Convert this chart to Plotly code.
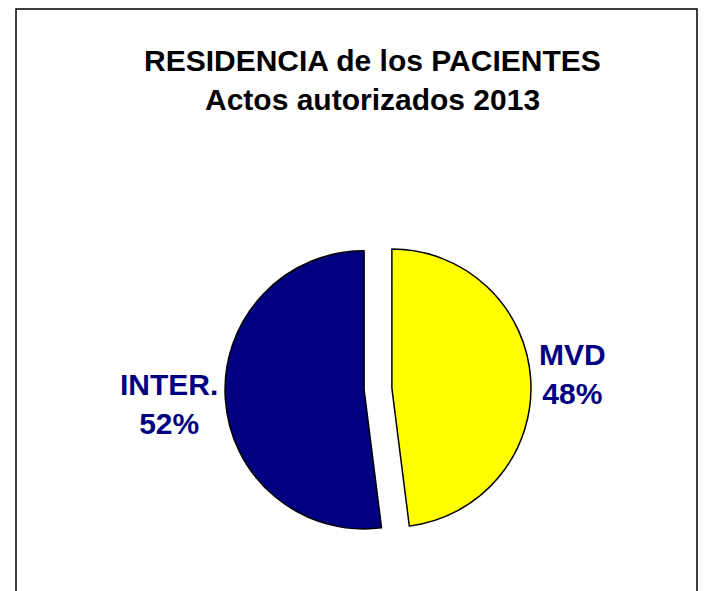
import plotly.graph_objects as go

W, H = 713, 591
OFF = 8  # page body margin in the browser

labels = ["MVD", "INTER."]
values = [48, 52]
colors = ["#FFFF00", "#000080"]
title_lines = ["RESIDENCIA de los PACIENTES", "Actos autorizados 2013"]

total = sum(values)
pcts = [round(v / total * 100) for v in values]


def px(x, y):
    return (x - OFF) / W, 1 - (y - OFF) / H


fig = go.Figure(go.Pie(
    labels=labels,
    values=values,
    sort=False,
    direction="clockwise",
    rotation=0,
    pull=[0.1, 0.1],
    marker=dict(colors=colors, line=dict(color="black", width=1.5)),
    textinfo="none",
    hoverinfo="label+percent",
    showlegend=False,
    domain=dict(x=[(225 - OFF) / W, (531 - OFF) / W],
                y=[1 - (542 - OFF) / H, 1 - (236 - OFF) / H]),
))

font_b = dict(family="Liberation Sans, Arial", size=30, weight="bold")

annotations = []
for line, ty in zip(title_lines, [60, 100]):
    x, y = px(372, ty)
    annotations.append(dict(text=line, x=x, y=y, xref="paper", yref="paper",
                            showarrow=False, xanchor="center", yanchor="middle",
                            font=dict(font_b, color="black")))

label_pos = {"MVD": (572, 374), "INTER.": (169, 404)}
for lab, p in zip(labels, pcts):
    cx, cy = label_pos[lab]
    x, y = px(cx, cy)
    annotations.append(dict(text=f"{lab}<br>{p}%", x=x, y=y, xref="paper", yref="paper",
                            showarrow=False, xanchor="center", yanchor="middle",
                            font=dict(font_b, color="#000080")))

fig.update_layout(
    width=W, height=H,
    margin=dict(l=0, r=0, t=0, b=0),
    paper_bgcolor="white",
    plot_bgcolor="white",
    annotations=annotations,
    shapes=[dict(type="rect", xref="paper", yref="paper",
                 x0=(16 - OFF) / W, x1=(697 - OFF) / W, y0=-0.05, y1=1 - (9 - OFF) / H,
                 line=dict(color="black", width=1.5))],
)

fig.write_html("out.html")
